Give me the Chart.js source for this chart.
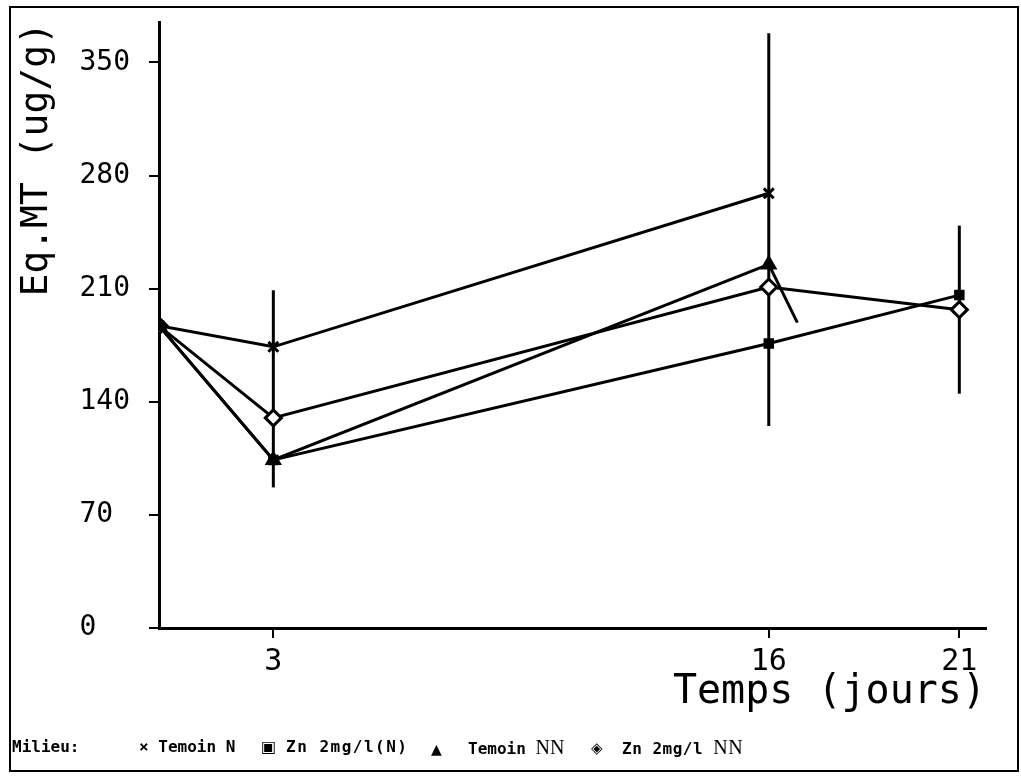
<!DOCTYPE html>
<html>
<head>
<meta charset="utf-8">
<script src="https://cdn.jsdelivr.net/npm/chart.js@4.4.1/dist/chart.umd.min.js"></script>
<style>
  html, body { margin: 0; padding: 0; background: #fff; }
  #wrap { position: relative; width: 1021px; height: 777px; overflow: hidden; }
  canvas { position: absolute; left: 0; top: 0; }
  #frame { position: absolute; left: 9px; top: 6px; width: 1006px; height: 762px; border: 2px solid #000; pointer-events: none; }
  .lg { position: absolute; top: 737px; font: bold 16px "DejaVu Sans Mono", monospace; color: #000; white-space: pre; line-height: 20px; }
  .serif { font-family: "Liberation Serif", serif; font-weight: normal; font-size: 20px; }
  .sym { font-family: "DejaVu Sans", sans-serif; font-weight: normal; }
</style>
</head>
<body>
<div id="wrap">
  <canvas id="c" width="1021" height="777"></canvas>
  <div id="frame"></div>
  <span class="lg" style="left:12px">Milieu:</span>
  <span class="lg" style="left:139px">× Temoin N</span>
  <span class="lg sym" style="left:261px">▣</span>
  <span class="lg" style="left:286px;letter-spacing:1.5px">Zn 2mg/l(N)</span>
  <span class="lg sym" style="left:431px;font-size:14px;top:739px">▲</span>
  <span class="lg" style="left:468px">Temoin <span class="serif">NN</span></span>
  <span class="lg sym" style="left:591px;font-size:15px;top:738px">◈</span>
  <span class="lg" style="left:622px;letter-spacing:0.5px">Zn 2mg/l <span class="serif">NN</span></span>
</div>
<script>
// ---- data ----
const days = [0, 3, 16, 21];
const temoinN = [187, 174, 269, null];
const znN = [187, 104, 176, 206];
const temoinNN = [187, 104, 225, null];
const znNN = [187, 130, 211, 197];
// stray plotter stroke after the Temoin NN day-16 point
const hookX = 16.75;
const hookY = 189;
// error bars
const errDays = [3, 16, 21];
const errLow = [87, 125, 145];
const errHigh = [209, 368, 249];
// axes
const yTicks = [0, 70, 140, 210, 280, 350];
const xTicks = [3, 16, 21];
const xMax = 21.7;
const yMax = 375;

function pts(vals) {
  const out = [];
  vals.forEach((v, i) => { if (v !== null) out.push({ x: days[i], y: v }); });
  return out;
}

const tnnData = pts(temoinNN);
tnnData.push({ x: hookX, y: hookY });
const tnnRadius = tnnData.map((p, i) => i === tnnData.length - 1 ? 0 : 8);

const errorBars = {
  id: 'errorBars',
  beforeDatasetsDraw(chart) {
    const { ctx, scales: { x, y } } = chart;
    ctx.save();
    ctx.strokeStyle = '#000';
    ctx.lineWidth = 3;
    errDays.forEach((d, i) => {
      const px = x.getPixelForValue(d);
      ctx.beginPath();
      ctx.moveTo(px, y.getPixelForValue(errLow[i]));
      ctx.lineTo(px, y.getPixelForValue(errHigh[i]));
      ctx.stroke();
    });
    ctx.restore();
  }
};

Chart.defaults.color = '#000';
Chart.defaults.font.family = '"DejaVu Sans Mono", monospace';

new Chart(document.getElementById('c'), {
  type: 'scatter',
  data: {
    datasets: [
      { label: 'Temoin N', data: pts(temoinN), showLine: true, borderColor: '#000', borderWidth: 3,
        pointStyle: 'crossRot', pointRadius: 7, pointBorderWidth: 3, pointBorderColor: '#000', backgroundColor: '#000' },
      { label: 'Zn 2mg/l(N)', data: pts(znN), showLine: true, borderColor: '#000', borderWidth: 3,
        pointStyle: 'rect', pointRadius: 6, pointBorderWidth: 2, pointBorderColor: '#000', pointBackgroundColor: '#000', backgroundColor: '#000' },
      { label: 'Temoin NN', data: tnnData, showLine: true, borderColor: '#000', borderWidth: 3,
        pointStyle: 'triangle', pointRadius: tnnRadius, pointBorderWidth: 2, pointBorderColor: '#000', pointBackgroundColor: '#000', backgroundColor: '#000' },
      { label: 'Zn 2mg/l NN', data: pts(znNN), showLine: true, borderColor: '#000', borderWidth: 3,
        pointStyle: 'rectRot', pointRadius: 8, pointBorderWidth: 3, pointBorderColor: '#000', pointBackgroundColor: '#fff', backgroundColor: '#fff' }
    ]
  },
  options: {
    responsive: false,
    animation: false,
    devicePixelRatio: 1,
    layout: { padding: { top: 22, right: 35, bottom: 0, left: 0 } },
    plugins: { legend: { display: false }, tooltip: { enabled: false } },
    scales: {
      x: {
        type: 'linear', min: 0, max: xMax,
        afterBuildTicks: s => { s.ticks = xTicks.map(v => ({ value: v })); },
        afterFit: s => { s.height = 149; s.paddingLeft = 0; s.paddingRight = 0; },
        border: { display: true, color: '#000', width: 3 },
        grid: { drawOnChartArea: false, drawTicks: true, tickLength: 10, color: '#000', lineWidth: 2 },
        ticks: { font: { size: 30 }, color: '#000', padding: 6, maxRotation: 0 },
        title: { display: true, text: 'Temps (jours)', align: 'end', color: '#000',
                 font: { size: 40 }, padding: { top: 0, bottom: 60 } }
      },
      y: {
        type: 'linear', min: 0, max: yMax,
        afterBuildTicks: s => { s.ticks = yTicks.map(v => ({ value: v })); },
        afterFit: s => { s.width = 159; s.paddingTop = 0; s.paddingBottom = 0; },
        border: { display: true, color: '#000', width: 3 },
        grid: { drawOnChartArea: false, drawTicks: true, tickLength: 10, color: '#000', lineWidth: 2 },
        ticks: { font: { size: 28 }, color: '#000', padding: 19,
                 callback: v => String(v).padEnd(3, ' ') },
        title: { display: true, text: 'Eq.MT (ug/g)', align: 'end', color: '#000',
                 font: { size: 38 }, padding: { top: 14, bottom: 0 } }
      }
    }
  },
  plugins: [errorBars]
});
</script>
</body>
</html>
